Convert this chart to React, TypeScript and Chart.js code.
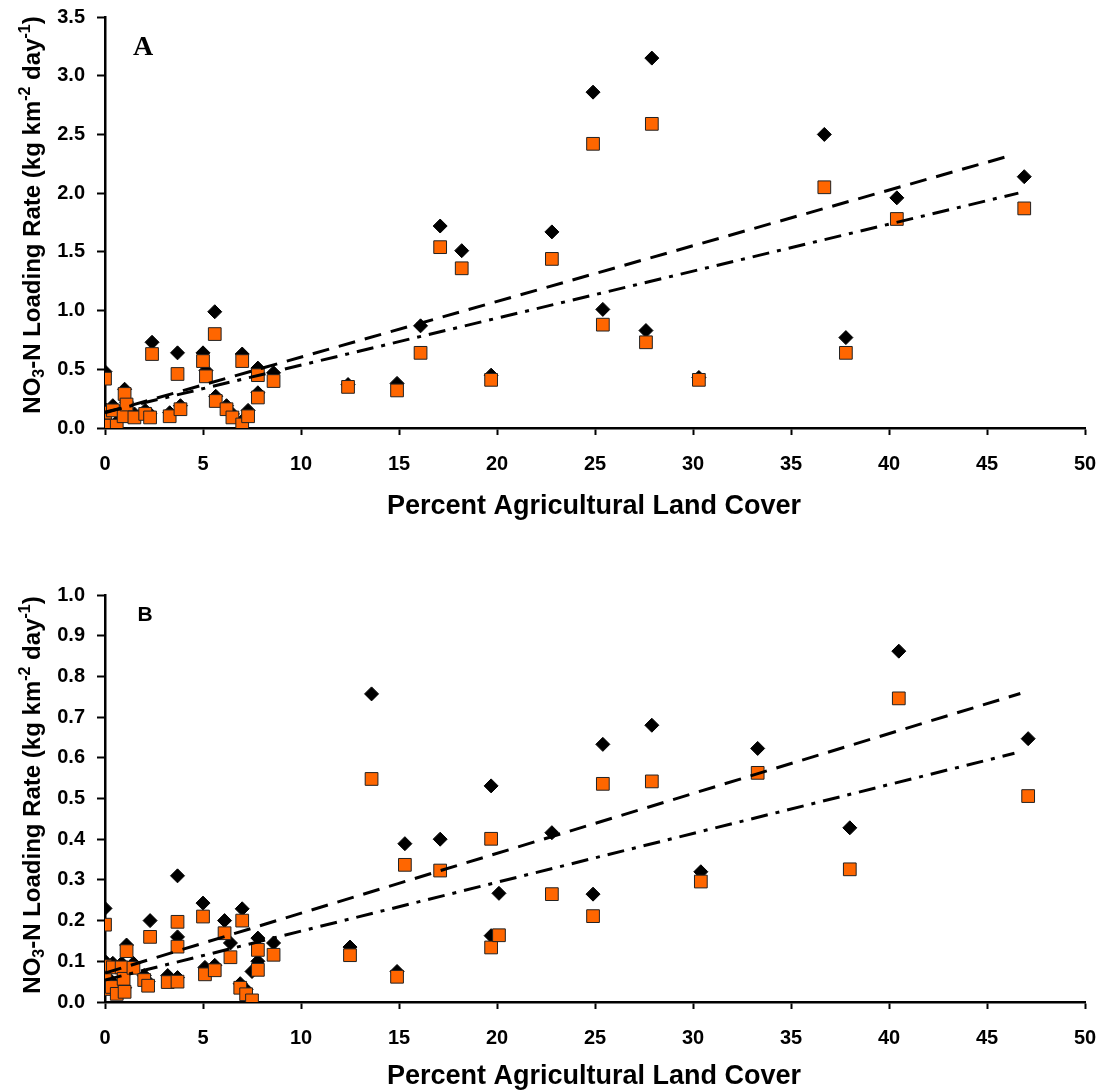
import React, { useEffect, useRef } from "react";
import { Chart, registerables } from "chart.js";
Chart.register(...registerables);

const SANS = "'Liberation Sans', Arial, sans-serif";
const SERIF = "'Liberation Serif', 'Times New Roman', serif";

// ---------- Panel A data ----------
const agA = [0, 0, 0.15, 0.4, 0.6, 0.95, 1.0, 1.1, 1.5, 2.05, 2.3, 2.4, 3.3, 3.7, 3.85, 5.0, 5.15, 5.6, 5.65, 6.2, 6.5, 7.0, 7.0, 7.3, 7.8, 7.8, 8.6, 12.4, 14.9, 16.1, 17.1, 18.2, 19.7, 22.8, 24.9, 25.4, 27.6, 27.9, 30.3, 36.7, 37.8, 40.4, 46.9];
const diamondA = [0.48, 0.16, 0.05, 0.19, 0.05, 0.13, 0.33, 0.22, 0.12, 0.15, 0.12, 0.73, 0.13, 0.64, 0.19, 0.64, 0.49, 0.99, 0.27, 0.19, 0.12, 0.63, 0.06, 0.15, 0.51, 0.30, 0.47, 0.37, 0.38, 0.87, 1.72, 1.51, 0.45, 1.67, 2.86, 1.01, 0.83, 3.15, 0.43, 2.50, 0.77, 1.96, 2.14];
const squareA = [0.42, 0.13, 0.02, 0.15, 0.02, 0.10, 0.29, 0.20, 0.09, 0.12, 0.09, 0.63, 0.10, 0.46, 0.16, 0.57, 0.44, 0.80, 0.23, 0.16, 0.09, 0.57, 0.03, 0.10, 0.45, 0.26, 0.40, 0.35, 0.32, 0.64, 1.54, 1.36, 0.41, 1.44, 2.42, 0.88, 0.73, 2.59, 0.41, 2.05, 0.64, 1.78, 1.87];
const trendDiamondXA = [0, 46.2];
const trendDiamondYA = [0.13, 2.32];
const trendSquareXA = [0, 46.6];
const trendSquareYA = [0.135, 2.0];
const yTicksA = { max: 3.5, step: 0.5 };

// ---------- Panel B data ----------
const agB = [0, 0, 0, 0, 0.35, 0.4, 0.6, 0.85, 0.95, 1.0, 1.1, 1.45, 2.0, 2.2, 2.3, 3.2, 3.7, 3.7, 3.7, 5.0, 5.1, 5.6, 6.1, 6.4, 6.9, 7.0, 7.2, 7.5, 7.8, 7.8, 8.6, 12.5, 13.6, 14.9, 15.3, 17.1, 19.7, 19.7, 20.1, 22.8, 24.9, 25.4, 27.9, 30.4, 33.3, 38.0, 40.5, 47.1];
const diamondB = [0.23, 0.10, 0.07, 0.045, 0.05, 0.095, 0.03, 0.095, 0.07, 0.035, 0.14, 0.095, 0.065, 0.05, 0.20, 0.065, 0.31, 0.16, 0.06, 0.243, 0.085, 0.09, 0.20, 0.145, 0.045, 0.229, 0.03, 0.075, 0.157, 0.10, 0.145, 0.135, 0.757, 0.075, 0.389, 0.40, 0.531, 0.163, 0.267, 0.416, 0.265, 0.633, 0.68, 0.32, 0.623, 0.428, 0.862, 0.647];
const squareB = [0.19, 0.088, 0.06, 0.032, 0.037, 0.085, 0.02, 0.085, 0.057, 0.025, 0.125, 0.084, 0.054, 0.04, 0.16, 0.049, 0.197, 0.136, 0.05, 0.21, 0.068, 0.078, 0.169, 0.11, 0.035, 0.20, 0.019, 0.004, 0.128, 0.079, 0.116, 0.115, 0.548, 0.062, 0.337, 0.323, 0.401, 0.134, 0.164, 0.265, 0.211, 0.536, 0.542, 0.296, 0.563, 0.326, 0.746, 0.506];
const trendDiamondXB = [0, 46.7];
const trendDiamondYB = [0.071, 0.758];
const trendSquareXB = [0, 46.4];
const trendSquareYB = [0.054, 0.611];
const yTicksB = { max: 1.0, step: 0.1 };

const xTitle = "Percent Agricultural Land Cover";
const yTitleParts = [
  { t: "NO", k: "n" },
  { t: "3", k: "sub" },
  { t: "-N Loading Rate (kg km", k: "n" },
  { t: "-2", k: "sup" },
  { t: " day", k: "n" },
  { t: "-1", k: "sup" },
  { t: ")", k: "n" },
];

const W = 1102;
const H = 546;

function drawRich(ctx: CanvasRenderingContext2D, F: number) {
  const sizeOf = (k: string) => (k === "n" ? F : Math.round(F * 0.65));
  let total = 0;
  const widths: number[] = [];
  for (const p of yTitleParts) {
    ctx.font = `bold ${sizeOf(p.k)}px ${SANS}`;
    const w = ctx.measureText(p.t).width;
    widths.push(w);
    total += w;
  }
  let x = -total / 2;
  ctx.textAlign = "left";
  ctx.textBaseline = "alphabetic";
  yTitleParts.forEach((p, i) => {
    ctx.font = `bold ${sizeOf(p.k)}px ${SANS}`;
    let dy = F * 0.36;
    if (p.k === "sub") dy += F * 0.2;
    if (p.k === "sup") dy -= F * 0.42;
    ctx.fillText(p.t, x, dy);
    x += widths[i];
  });
}

type PanelProps = {
  xs: number[];
  d: number[];
  s: number[];
  tdx: number[];
  tdy: number[];
  tsx: number[];
  tsy: number[];
  yMax: number;
  yStep: number;
  padTop: number;
  plotBottom: number;
  letter: string;
  letterFont: string;
  letterPos: [number, number];
  xTitleY: number;
  yTitleY: number;
};

function Panel(p: PanelProps) {
  const ref = useRef<HTMLCanvasElement>(null);
  useEffect(() => {
    const textPlugin = {
      id: "texts",
      afterDraw(chart: any) {
        const ctx: CanvasRenderingContext2D = chart.ctx;
        ctx.save();
        ctx.fillStyle = "#000";
        // x title
        ctx.font = `bold 27px ${SANS}`;
        ctx.textAlign = "center";
        ctx.textBaseline = "middle";
        ctx.fillText(xTitle, 594, p.xTitleY);
        // panel letter
        ctx.font = p.letterFont;
        ctx.fillText(p.letter, p.letterPos[0], p.letterPos[1]);
        // y title
        ctx.save();
        ctx.translate(31, p.yTitleY);
        ctx.rotate(-Math.PI / 2);
        drawRich(ctx, 24);
        ctx.restore();
        ctx.restore();
      },
    };
    const pts = (xs: number[], ys: number[]) => xs.map((x, i) => ({ x, y: ys[i] }));
    const chart = new Chart(ref.current as HTMLCanvasElement, {
      type: "scatter",
      data: {
        datasets: [
          {
            data: pts(p.tdx, p.tdy),
            showLine: true,
            borderColor: "#000",
            borderWidth: 3,
            borderDash: [17, 10],
            pointRadius: 0,
            order: 0,
          },
          {
            data: pts(p.tsx, p.tsy),
            showLine: true,
            borderColor: "#000",
            borderWidth: 3,
            borderDash: [17, 8, 4, 8],
            pointRadius: 0,
            order: 0,
          },
          {
            data: pts(p.xs, p.s),
            pointStyle: "rect",
            pointRadius: 9,
            backgroundColor: "#FF6600",
            borderColor: "#222",
            borderWidth: 1,
            order: 1,
          },
          {
            data: pts(p.xs, p.d),
            pointStyle: "rectRot",
            pointRadius: 7,
            backgroundColor: "#000",
            borderColor: "#000",
            borderWidth: 1,
            order: 2,
          },
        ],
      } as any,
      options: {
        responsive: false,
        animation: false,
        events: [],
        layout: { padding: { top: p.padTop, right: 17, left: 0, bottom: 0 } },
        plugins: { legend: { display: false }, tooltip: { enabled: false } },
        scales: {
          x: {
            type: "linear",
            min: 0,
            max: 50,
            ticks: {
              stepSize: 5,
              color: "#000",
              font: { family: SANS, size: 20, weight: "bold" },
              padding: 17,
              maxRotation: 0,
              autoSkip: false,
            },
            grid: { display: true, drawOnChartArea: false, drawTicks: true, tickLength: 7, tickWidth: 2, tickColor: "#000" },
            border: { display: true, color: "#000", width: 2.5 },
            afterFit: (s: any) => {
              s.height = H - p.plotBottom;
              s.paddingLeft = 0;
              s.paddingRight = 0;
            },
          },
          y: {
            type: "linear",
            min: 0,
            max: p.yMax,
            ticks: {
              stepSize: p.yStep,
              color: "#000",
              font: { family: SANS, size: 20, weight: "bold" },
              padding: 12,
              autoSkip: false,
              callback: (v: any) => Number(v).toFixed(1),
            },
            grid: { display: true, drawOnChartArea: false, drawTicks: true, tickLength: 8, tickWidth: 2, tickColor: "#000" },
            border: { display: true, color: "#000", width: 2.5 },
            afterFit: (s: any) => {
              s.width = 105;
              s.paddingTop = 0;
              s.paddingBottom = 0;
            },
          },
        },
      } as any,
      plugins: [textPlugin],
    });
    return () => chart.destroy();
  }, []);
  return <canvas ref={ref} width={W} height={H} style={{ display: "block", width: W, height: H }} />;
}

export default function App() {
  return (
    <div style={{ position: "absolute", left: 0, top: 0, width: W, height: 2 * H, background: "#fff" }}>
      <Panel
        xs={agA}
        d={diamondA}
        s={squareA}
        tdx={trendDiamondXA}
        tdy={trendDiamondYA}
        tsx={trendSquareXA}
        tsy={trendSquareYA}
        yMax={yTicksA.max}
        yStep={yTicksA.step}
        padTop={17}
        plotBottom={428}
        letter="A"
        letterFont={`bold 28px ${SERIF}`}
        letterPos={[143, 48]}
        xTitleY={507}
        yTitleY={215}
      />
      <Panel
        xs={agB}
        d={diamondB}
        s={squareB}
        tdx={trendDiamondXB}
        tdy={trendDiamondYB}
        tsx={trendSquareXB}
        tsy={trendSquareYB}
        yMax={yTicksB.max}
        yStep={yTicksB.step}
        padTop={49}
        plotBottom={456}
        letter="B"
        letterFont={`bold 21px ${SANS}`}
        letterPos={[145, 69]}
        xTitleY={531}
        yTitleY={249}
      />
    </div>
  );
}
